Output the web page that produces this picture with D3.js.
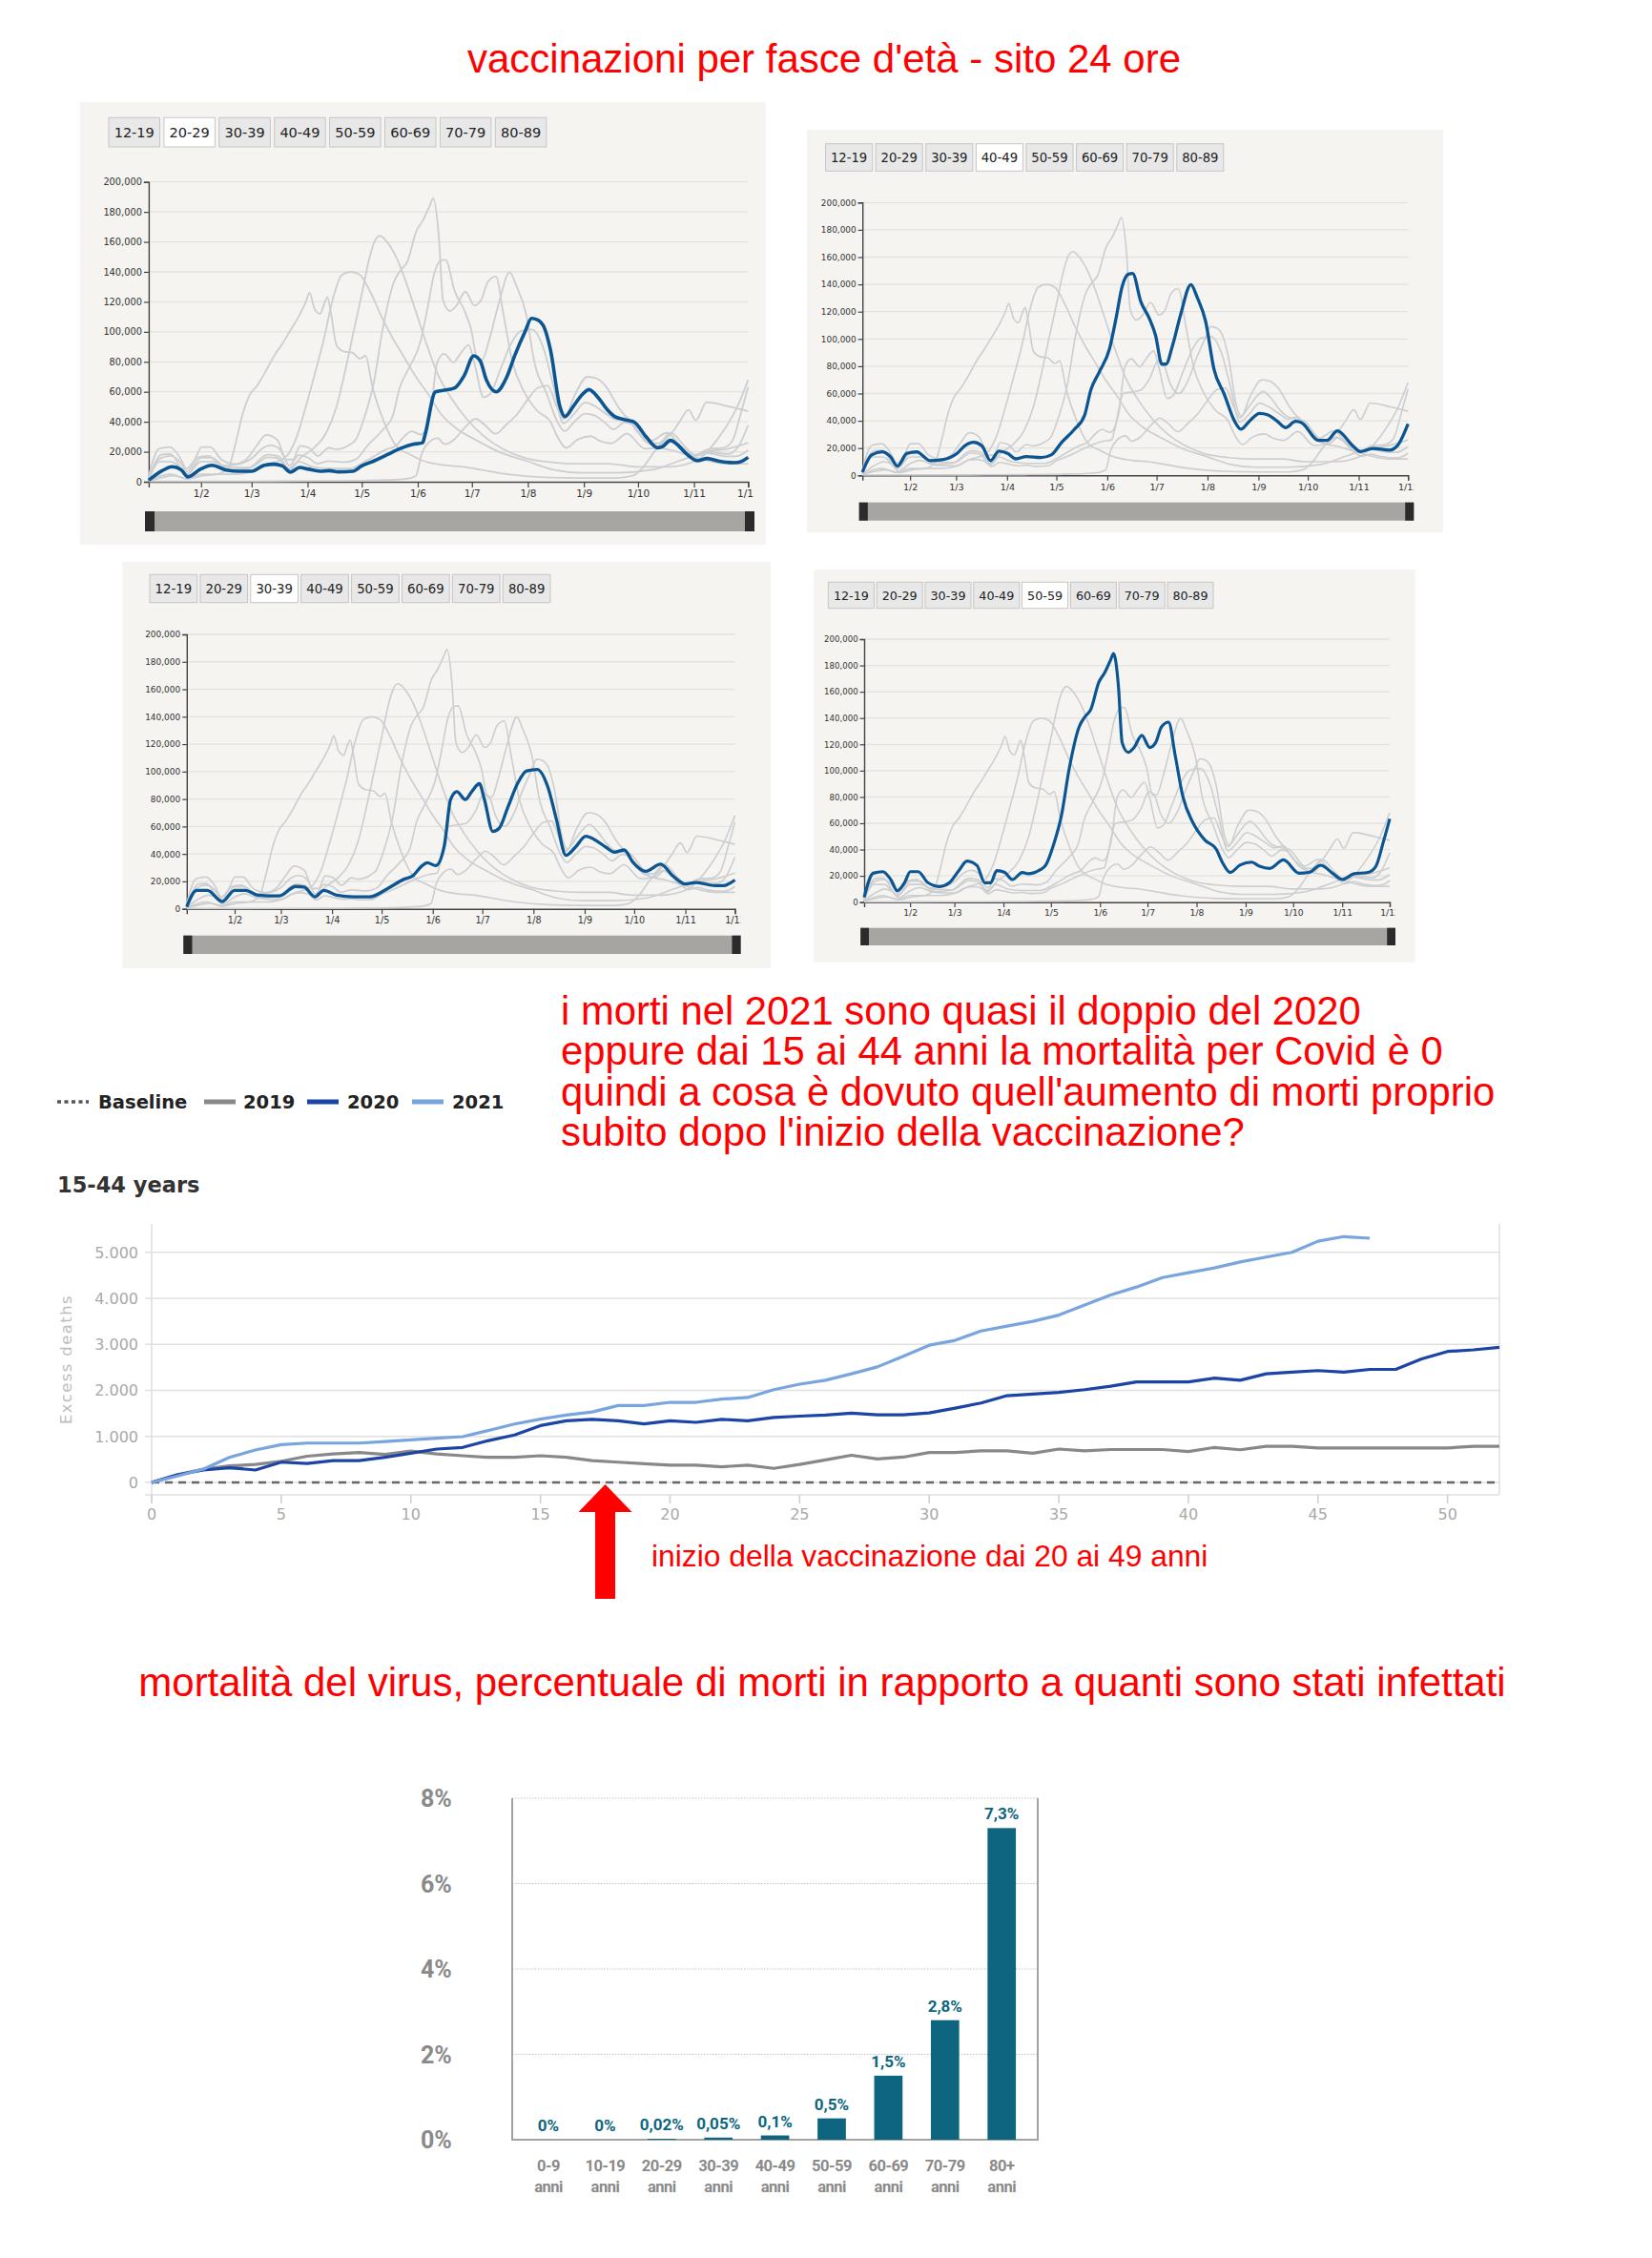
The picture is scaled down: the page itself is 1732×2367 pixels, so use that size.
<!DOCTYPE html>
<html><head><meta charset="utf-8">
<script src="https://cdn.jsdelivr.net/npm/d3@7"></script>
<style>body{margin:0;background:#fff}</style>
</head><body>
<svg id="c" width="1732" height="2367"></svg>
<script>
// ---------------- DATA ----------------
// Daily vaccinations (thousands) by age group, [day of 2021 (0 = 1 Jan), value]
const ageGroups = ["12-19","20-29","30-39","40-49","50-59","60-69","70-79","80-89"];
const v12_19 = [[2,0.2],[60,0.3],[100,0.5],[130,1],[145,2],[150,4],[153,18],[157,26],[162,29],[166,25],[171,28],[177,36],[183,42],[188,38],[194,32],[200,38],[206,45],[212,55],[218,63],[223,64],[228,50],[232,42],[238,58],[245,70],[250,69],[255,64],[262,50],[270,38],[277,27],[284,23],[292,21],[300,18],[312,14],[322,12],[334,12]];
const v20_29 = [[2,1],[9.5,7.4],[15,10],[20,8],[23.7,3.2],[30.8,8.5],[37,11],[45,7.8],[52,7],[59,7],[66,11],[71.5,11.7],[76,10.6],[80.5,6.4],[85.6,9.5],[90,8.5],[97,7],[102,7.4],[107,6.6],[115,7],[120,10.6],[127,14],[134,18],[141,22],[148.4,25],[153.7,26],[155,31],[160.8,60],[168,61.5],[171.5,62.6],[176.8,71],[182,84],[185.6,80.6],[189,68],[194.5,60],[200,69],[205,85],[210.4,100],[214,109],[217.4,108],[221,103],[224.5,88],[229.8,50],[232.5,43.5],[237,50],[242,58],[245.8,61.5],[251,56],[256,48],[260,43.5],[267,41],[270.6,40],[277.7,29.7],[283.9,22.7],[286.6,23.5],[291,27.6],[294.6,25],[299.9,18.5],[306,14],[311.3,15.5],[317.4,13.8],[326.3,12.7],[330.7,13.8],[334,16.3]];
const v30_39 = [[2,1.5],[8,13.5],[14.5,13.5],[23.4,5.3],[31,13.5],[37.5,13.5],[45,10],[57.9,9.4],[68,16.3],[73,15.8],[79.6,8.8],[85,13.5],[92.7,10],[103,8.8],[113,8.8],[123.4,14.6],[133.6,21.6],[138.7,23.9],[144,30.8],[147.7,33.6],[152.8,31.5],[158,46],[161.8,79.6],[165.6,85.4],[170.7,79.6],[174.6,85.4],[179.2,91.2],[182.3,79.6],[187.4,56.4],[191.2,58.7],[196.4,73.8],[202.8,92.4],[207.9,100.5],[214.3,101.6],[220.7,88.8],[225.8,65.6],[231.7,39],[237.3,44.8],[243.7,52.9],[248.8,50.6],[256,44.8],[261,41.3],[267,42.9],[272,34.3],[280,27.3],[289,32.6],[296.5,23.9],[304,18.1],[310.5,19.2],[322,16.9],[327,16.9],[334,21]];
const v40_49 = [[2,2.3],[7.6,15],[13.9,17.3],[19,13.8],[23.3,6.8],[29,16.1],[35,17.3],[43,10.8],[50.7,11.5],[59.6,16.1],[64.6,22],[69.7,24.3],[74.8,21.5],[79.9,10.8],[85.2,17.8],[90.3,16.1],[95.4,12.1],[101.7,13.8],[110.6,13.1],[116.9,15],[123.3,24.3],[130.9,33.6],[137.2,44.1],[141,62.7],[146,75.5],[152.4,93],[156.3,115],[160.1,138.7],[163.9,147.5],[166.4,148],[171.5,127],[176.6,115],[180.4,102.5],[184.2,81.5],[186.7,81.5],[190.5,94.3],[195.6,117.7],[201.9,139.8],[205.7,130.5],[210.8,113],[215.9,78],[222.2,59.4],[228.5,39.6],[232.3,33.8],[237.4,39.6],[243.7,45.4],[248.8,44.3],[254.5,39.6],[259.5,35],[265.6,39.6],[269.4,38.5],[279.5,25.6],[284.6,25.6],[291,32.6],[300,22.1],[305,17.4],[312.5,19.7],[322.7,18.5],[327.7,22],[334,37.7]];
const v50_59 = [[2,3.7],[7.7,22],[13.8,23.2],[18.8,17.2],[23,8.7],[27.5,14.8],[31.2,23.2],[36.1,23.2],[42.3,14.8],[49.7,11.9],[55.9,14.8],[62.1,24.5],[67,31.2],[73.2,28],[78.2,14.8],[81.9,14.8],[85.8,24],[90.8,22.6],[95.7,17.2],[101.9,22.6],[105.6,21.6],[113,24.5],[116.7,28.1],[121.7,43.9],[126.6,65.7],[131.6,101.9],[137.8,133.3],[141.5,141],[145.2,146.6],[150.2,167.1],[153.9,174.4],[157.6,184],[159.6,189],[162.6,164.7],[165,121.2],[168.8,113.9],[172.5,117.6],[177.4,126.8],[182.4,117.6],[186.1,121.2],[189.8,133.3],[194.3,136.9],[198.5,111.5],[203.4,80],[209.6,60.7],[217.1,47.4],[224.5,40.1],[228.2,30.4],[233.2,22.6],[239.4,28.1],[246.8,30.4],[251.7,27.3],[258.2,25.6],[266.9,32.1],[276.8,22],[283,22.6],[290.4,28.1],[297.9,22],[304.1,17.2],[311.5,21.6],[320.2,22.6],[325.1,26.9],[330.1,46.3],[334,63.3]];
const v60_69 = [[2,1],[9,18],[14,18.5],[23,4.5],[31,16],[37,16],[46,8],[57,9],[68,18],[74,17],[80,8],[86,16],[93,22],[100,32],[106,50],[111,75],[116,103],[120,125],[124,148],[127,160],[130,164],[134,160],[139,150],[144,135],[149,117],[155,95],[162,72],[170,55],[178,42],[188,30],[198,22],[210,16],[225,13],[240,12],[257,12],[272,10],[290,10],[305,14],[318,30],[328,50],[334,68]];
const v70_79 = [[2,0.5],[9,4],[14,5],[23,2],[31,5],[40,5],[50,5],[60,7],[68,12],[74,14],[79,18],[84,30],[89,50],[94,72],[99,95],[104,122],[109,138],[114,140],[119,138],[125,126],[131,110],[137,96],[143,84],[150,70],[157,58],[164,45],[173,35],[183,28],[196,20],[211,14],[226,8],[241,6],[261,6],[281,8],[296,14],[311,20],[323,22],[334,26]];
const v80_89 = [[2,0.5],[10,3],[16,4],[24,2],[32,4],[40,5],[46,9],[50,25],[54,45],[58,58],[62,64],[66,72],[72,85],[76,92],[80,100],[85,110],[89,120],[91,126],[94,115],[97,112],[99,118],[101,123],[103,112],[106,91],[110,87],[115,86],[119,82],[122,84],[126,63],[132,41],[139,24],[147,18],[154,14],[166,11],[176,10],[186,8],[201,5],[221,3],[241,2.5],[261,2.5],[270,4],[276,10],[282,20],[287,27],[292,33],[296,40],[301,48],[305,41],[311,53],[324,50],[334,47]];
const vaxSeries = [v12_19, v20_29, v30_39, v40_49, v50_59, v60_69, v70_79, v80_89];
const vaxYTicks = [0,20,40,60,80,100,120,140,160,180,200];

// Excess deaths 15-44 years, cumulative by week
const weeks2019 = [0,170,290,360,390,460,570,620,650,610,680,620,580,545,545,580,545,475,440,405,375,375,340,375,305,390,490,590,510,550,650,650,685,685,635,725,685,715,715,715,670,760,710,785,785,750,750,750,750,750,750,785,785];
const weeks2020 = [0,165,270,320,270,440,410,475,475,545,635,725,760,910,1030,1235,1340,1370,1340,1270,1340,1305,1370,1340,1410,1440,1465,1505,1470,1470,1510,1615,1725,1885,1920,1955,2015,2090,2185,2185,2185,2265,2220,2360,2395,2430,2395,2455,2455,2685,2845,2880,2935];
const weeks2021 = [0,140,290,545,705,820,855,855,855,890,925,960,995,1130,1270,1375,1465,1530,1670,1670,1740,1740,1810,1845,2015,2135,2220,2360,2510,2740,2980,3085,3290,3395,3500,3635,3855,4070,4245,4450,4555,4660,4790,4895,5000,5240,5340,5305];
const excessTicksY = [0,1000,2000,3000,4000,5000];
const excessTicksX = [0,5,10,15,20,25,30,35,40,45,50];
const arrowWeek = 17.5;

// Infection fatality rate by age
const ifrCats = ["0-9","10-19","20-29","30-39","40-49","50-59","60-69","70-79","80+"];
const ifrValues = [0,0,0.02,0.05,0.1,0.5,1.5,2.8,7.3];
const ifrLabels = ["0%","0%","0,02%","0,05%","0,1%","0,5%","1,5%","2,8%","7,3%"];
const ifrTicks = [0,2,4,6,8];

// ---------------- DRAW ----------------
const svg = d3.select("#c");
svg.append("rect").attr("width",1732).attr("height",2367).attr("fill","#fff");
const RED = "#ff0000";
const ARIAL = "'Liberation Sans', Arial, sans-serif";
const DJ = "'DejaVu Sans', sans-serif";

svg.append("text").attr("x",864).attr("y",76).attr("text-anchor","middle")
  .attr("font-family",ARIAL).attr("font-size",42).attr("fill",RED)
  .text("vaccinazioni per fasce d'età - sito 24 ore");

const panels = [
 {active:1, bg:[83.7,107,802.6,571], btn:{x:114,y:123.3,w:53.5,h:30.7,step:57.9}, plot:{x0:155.9,x1:784.4,y0:505,y1:190.7}, xl:517, scroll:[152,536,791,557]},
 {active:3, bg:[846,136,1513,558.3], btn:{x:865.6,y:150.7,w:49,h:28.6,step:52.6}, plot:{x0:904.2,x1:1476.2,y0:498.3,y1:212.3}, xl:510, scroll:[900.7,526.7,1482.3,545.7]},
 {active:2, bg:[128.5,589,808,1015], btn:{x:157,y:602.3,w:49.7,h:29.4,step:52.9}, plot:{x0:195.8,x1:770.5,y0:952.7,y1:665}, xl:964, scroll:[192.3,980.7,776.6,1000]},
 {active:4, bg:[853.3,597,1483.5,1008.7], btn:{x:868.4,y:610.3,w:48,h:27.4,step:50.8}, plot:{x0:906,x1:1457,y0:945.7,y1:670}, xl:956.3, scroll:[902.2,972.7,1463,991]}
];
const jan1 = new Date(2021,0,1).getTime();
const dayToDate = d => new Date(jan1 + d*86400000);
const fmtComma = d3.format(",");

panels.forEach((cfg, pi) => {
  const g = svg.append("g");
  const f = (cfg.plot.y0 - cfg.plot.y1) / 314;
  g.append("rect").attr("x",cfg.bg[0]).attr("y",cfg.bg[1])
    .attr("width",cfg.bg[2]-cfg.bg[0]).attr("height",cfg.bg[3]-cfg.bg[1]).attr("fill","#f5f4f0");
  ageGroups.forEach((a,i) => {
    const bx = cfg.btn.x + i*cfg.btn.step;
    g.append("rect").attr("x",bx).attr("y",cfg.btn.y).attr("width",cfg.btn.w).attr("height",cfg.btn.h)
      .attr("fill", i===cfg.active ? "#ffffff" : "#e8e8e8").attr("stroke","#c6c6c6").attr("stroke-width",1);
    g.append("text").attr("x",bx+cfg.btn.w/2).attr("y",cfg.btn.y+cfg.btn.h/2+5.2*f)
      .attr("text-anchor","middle").attr("font-family",DJ).attr("font-size",14.5*f).attr("fill","#222").text(a);
  });
  const x = d3.scaleTime().domain([new Date(2021,0,3), new Date(2021,11,1)]).range([cfg.plot.x0, cfg.plot.x1]);
  const y = d3.scaleLinear().domain([0,200]).range([cfg.plot.y0, cfg.plot.y1]);
  g.append("g").selectAll("line").data(vaxYTicks.slice(1)).join("line")
    .attr("x1",cfg.plot.x0).attr("x2",cfg.plot.x1).attr("y1",d=>y(d)).attr("y2",d=>y(d))
    .attr("stroke","#e2e2df").attr("stroke-width",1.3);
  const ya = g.append("g").attr("transform",`translate(${cfg.plot.x0},0)`)
    .call(d3.axisLeft(y).tickValues(vaxYTicks).tickFormat(d=>fmtComma(d*1000)).tickSize(5*f).tickPadding(2));
  ya.select(".domain").attr("stroke","#444").attr("stroke-width",1.4);
  ya.selectAll(".tick line").attr("stroke","#444").attr("stroke-width",1.2);
  ya.selectAll("text").attr("font-family",DJ).attr("font-size",9.8*f).attr("fill","#333");
  const cid = "clip"+pi;
  svg.append("clipPath").attr("id",cid).append("rect")
    .attr("x",cfg.plot.x0-40).attr("y",cfg.plot.y0-5).attr("width",cfg.plot.x1-cfg.plot.x0+46).attr("height",40);
  const xa = g.append("g").attr("clip-path",`url(#${cid})`).append("g").attr("transform",`translate(0,${cfg.plot.y0})`)
    .call(d3.axisBottom(x).tickValues(d3.timeMonth.range(new Date(2021,1,1), new Date(2021,11,2)))
      .tickFormat(d3.timeFormat("1/%-m")).tickSize(6*f).tickPadding(3));
  xa.select(".domain").attr("stroke","#444").attr("stroke-width",1.4);
  xa.selectAll(".tick line").attr("stroke","#444").attr("stroke-width",1.2);
  xa.selectAll("text").attr("font-family",DJ).attr("font-size",10.5*f).attr("fill","#333")
    .attr("dy",0).attr("y", cfg.xl - cfg.plot.y0 + 4*f);
  const line = d3.line().x(p=>x(dayToDate(p[0]))).y(p=>y(p[1])).curve(d3.curveMonotoneX);
  vaxSeries.forEach((s,i) => {
    if (i===cfg.active) return;
    g.append("path").attr("d",line(s)).attr("fill","none").attr("stroke","#cdced1").attr("stroke-width",1.8*f);
  });
  g.append("path").attr("d",line(vaxSeries[cfg.active])).attr("fill","none")
    .attr("stroke","#0b5592").attr("stroke-width",3.6*f).attr("stroke-linejoin","round");
  const sc = cfg.scroll;
  g.append("rect").attr("x",sc[0]).attr("y",sc[1]).attr("width",sc[2]-sc[0]).attr("height",sc[3]-sc[1]).attr("fill","#a6a5a1");
  g.append("rect").attr("x",sc[0]).attr("y",sc[1]).attr("width",10*f).attr("height",sc[3]-sc[1]).attr("fill","#2b2b2b");
  g.append("rect").attr("x",sc[2]-10*f).attr("y",sc[1]).attr("width",10*f).attr("height",sc[3]-sc[1]).attr("fill","#2b2b2b");
});

// Red comment block
const comment = ["i morti nel 2021 sono quasi il doppio del 2020",
  "eppure dai 15 ai 44 anni la mortalità per Covid è 0",
  "quindi a cosa è dovuto quell'aumento di morti proprio",
  "subito dopo l'inizio della vaccinazione?"];
comment.forEach((t,i)=>{
  svg.append("text").attr("x",588).attr("y",1074+i*42.3).attr("font-family",ARIAL).attr("font-size",41.8)
    .attr("fill",RED).text(t);
});

// ---------- Excess deaths chart ----------
const locIT = d3.formatLocale({decimal:",", thousands:".", grouping:[3], currency:["","€"]});
const fmtIT = locIT.format(",");
const xL = d3.scaleLinear().domain([0,52]).range([159,1572]);
const yL = d3.scaleLinear().domain([0,5000]).range([1554,1312.7]);
const gL = svg.append("g");
const legend = [
  {label:"Baseline", x:60, tx:103, color:"#555", dash:"4,3.5", w:3.5},
  {label:"2019", x:214, tx:255, color:"#888888", dash:null, w:5},
  {label:"2020", x:322, tx:364, color:"#1c43a6", dash:null, w:5},
  {label:"2021", x:432, tx:474, color:"#79a5df", dash:null, w:5}
];
legend.forEach(l=>{
  gL.append("line").attr("x1",l.x).attr("x2",l.x+33).attr("y1",1155).attr("y2",1155)
    .attr("stroke",l.color).attr("stroke-width",l.w).attr("stroke-dasharray",l.dash);
  gL.append("text").attr("x",l.tx).attr("y",1162).attr("font-family",DJ).attr("font-weight","bold")
    .attr("font-size",19.5).attr("fill","#222").text(l.label);
});
gL.append("text").attr("x",60).attr("y",1250).attr("font-family",DJ).attr("font-weight","bold")
  .attr("font-size",22.5).attr("fill","#333").text("15-44 years");
gL.selectAll(".gl").data(excessTicksY).join("line").attr("class","gl")
  .attr("x1",152).attr("x2",xL(52)).attr("y1",d=>yL(d)).attr("y2",d=>yL(d))
  .attr("stroke","#e0e0e0").attr("stroke-width",1.6);
gL.append("line").attr("x1",xL(0)).attr("x2",xL(0)).attr("y1",1283).attr("y2",1576).attr("stroke","#e0e0e0").attr("stroke-width",1.6);
gL.append("line").attr("x1",xL(52)).attr("x2",xL(52)).attr("y1",1283).attr("y2",1567).attr("stroke","#e0e0e0").attr("stroke-width",1.6);
gL.append("line").attr("x1",152).attr("x2",xL(52)).attr("y1",1567).attr("y2",1567).attr("stroke","#e0e0e0").attr("stroke-width",1.6);
gL.selectAll(".xt").data(excessTicksX).join("line").attr("class","xt")
  .attr("x1",d=>xL(d)).attr("x2",d=>xL(d)).attr("y1",1567).attr("y2",1576).attr("stroke","#d0d0d0").attr("stroke-width",1.6);
gL.selectAll(".xtl").data(excessTicksX).join("text").attr("class","xtl")
  .attr("x",d=>xL(d)).attr("y",1593).attr("text-anchor","middle").attr("font-family",DJ).attr("font-size",16)
  .attr("fill","#a9a9a9").text(d=>d);
gL.selectAll(".ytl").data(excessTicksY).join("text").attr("class","ytl")
  .attr("x",145).attr("y",d=>yL(d)+6).attr("text-anchor","end").attr("font-family",DJ).attr("font-size",16)
  .attr("fill","#a9a9a9").text(d=>fmtIT(d));
gL.append("text").attr("transform","translate(75,1425) rotate(-90)").attr("text-anchor","middle")
  .attr("font-family",DJ).attr("font-size",16.5).attr("letter-spacing",1.4).attr("fill","#bdbdbd").text("Excess deaths");
gL.append("line").attr("x1",xL(0)).attr("x2",xL(52)).attr("y1",yL(0)).attr("y2",yL(0))
  .attr("stroke","#666").attr("stroke-width",2.5).attr("stroke-dasharray","8,6");
const lineL = d3.line().x((d,i)=>xL(i)).y(d=>yL(d));
[[weeks2019,"#888888"],[weeks2020,"#1c43a6"],[weeks2021,"#79a5df"]].forEach(([s,c])=>{
  gL.append("path").attr("d",lineL(s)).attr("fill","none").attr("stroke",c).attr("stroke-width",3.2).attr("stroke-linejoin","round");
});
const ax = xL(arrowWeek), ay = yL(0)+2;
gL.append("path").attr("fill",RED)
  .attr("d",`M${ax},${ay} L${ax+28},${ay+29} L${ax+10.5},${ay+29} L${ax+10.5},${ay+120} L${ax-10.5},${ay+120} L${ax-10.5},${ay+29} L${ax-28},${ay+29} Z`);
svg.append("text").attr("x",683).attr("y",1642).attr("font-family",ARIAL).attr("font-size",31.8).attr("fill",RED)
  .text("inizio della vaccinazione dai 20 ai 49 anni");

// ---------- IFR bar chart ----------
svg.append("text").attr("x",862).attr("y",1778).attr("text-anchor","middle").attr("font-family",ARIAL)
  .attr("font-size",42).attr("fill",RED)
  .text("mortalità del virus, percentuale di morti in rapporto a quanti sono stati infettati");
const gB = svg.append("g");
const yB = d3.scaleLinear().domain([0,8]).range([2243,1885]);
const xB = d3.scaleBand().domain(ifrCats).range([545.3,1079.9]).paddingInner(0.5).paddingOuter(0.25);
const BF = "Roboto, 'Open Sans', sans-serif";
gB.selectAll(".bg").data(ifrTicks.slice(1)).join("line").attr("class","bg")
  .attr("x1",537).attr("x2",1088).attr("y1",d=>yB(d)).attr("y2",d=>yB(d))
  .attr("stroke","#c4c4c4").attr("stroke-width",1).attr("stroke-dasharray","1.5,1.5");
gB.append("path").attr("d",`M537,${yB(8)} V${yB(0)} H1088 V${yB(8)}`).attr("fill","none").attr("stroke","#a3a3a3").attr("stroke-width",2);
gB.selectAll(".byl").data(ifrTicks).join("text").attr("class","byl")
  .attr("x",441).attr("y",d=>yB(d)+9).attr("font-family",BF).attr("font-weight",700).attr("font-size",25)
  .attr("fill","#8a8a8a").text(d=>d+"%");
gB.selectAll(".bar").data(ifrValues).join("rect").attr("class","bar")
  .attr("x",(d,i)=>xB(ifrCats[i])).attr("width",xB.bandwidth())
  .attr("y",d=>yB(d)).attr("height",d=>yB(0)-yB(d)).attr("fill","#0e6580");
gB.selectAll(".bvl").data(ifrValues).join("text").attr("class","bvl")
  .attr("x",(d,i)=>xB(ifrCats[i])+xB.bandwidth()/2).attr("y",d=>yB(d)-9).attr("text-anchor","middle")
  .attr("font-family",BF).attr("font-weight",700).attr("font-size",17).attr("fill","#0e6580")
  .text((d,i)=>ifrLabels[i]);
ifrCats.forEach(c=>{
  const cx = xB(c)+xB.bandwidth()/2;
  gB.append("text").attr("x",cx).attr("y",2276).attr("text-anchor","middle").attr("font-family",BF)
    .attr("font-weight",700).attr("font-size",16.5).attr("letter-spacing",-0.5).attr("fill","#8a8a8a").text(c);
  gB.append("text").attr("x",cx).attr("y",2298).attr("text-anchor","middle").attr("font-family",BF)
    .attr("font-weight",700).attr("font-size",16.5).attr("letter-spacing",-0.5).attr("fill","#8a8a8a").text("anni");
});
</script></body></html>
